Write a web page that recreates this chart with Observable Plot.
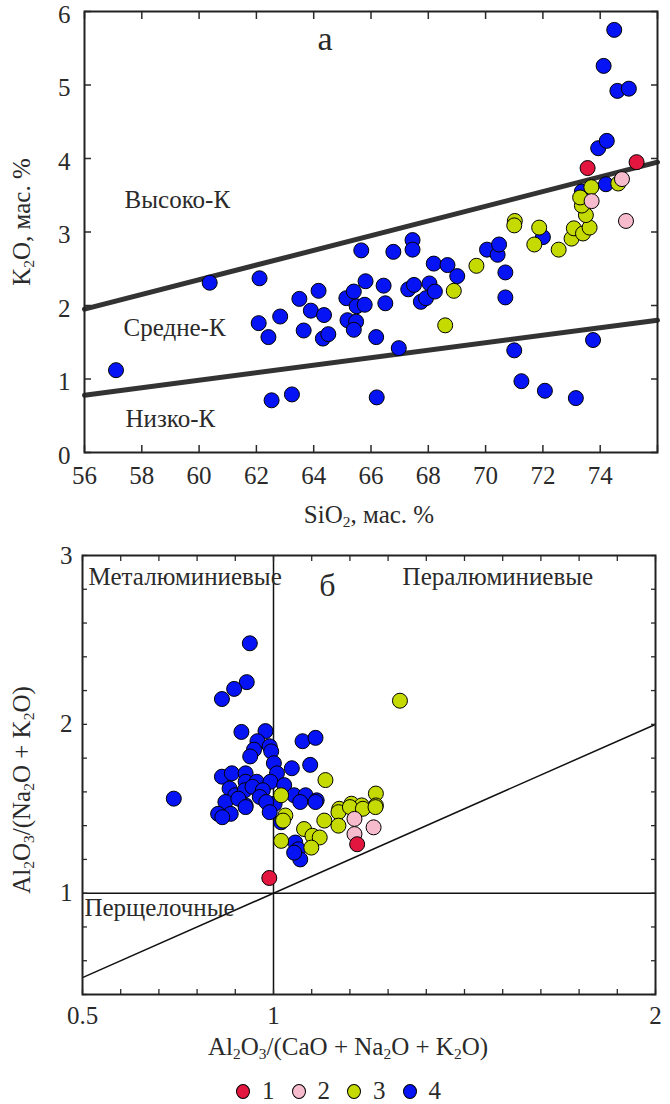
<!DOCTYPE html>
<html><head><meta charset="utf-8">
<script src="https://cdn.jsdelivr.net/npm/d3@7"></script>
<script src="https://cdn.jsdelivr.net/npm/@observablehq/plot@0.6"></script>
<style>
body{margin:0;background:#fff;}
#wrap{position:relative;width:670px;height:1104px;background:#fff;font-family:"Liberation Serif","Times New Roman",serif;color:#2a2a2a}
#wrap > div.p{position:absolute;left:0}
.t{position:absolute;font-size:25px;white-space:nowrap;line-height:1.2;transform:translate(-50%,-50%)}
.t.rot{transform:translate(-50%,-50%) rotate(-90deg)}
.t sub{font-size:0.62em;vertical-align:-0.28em;line-height:0}
#legend{position:absolute;left:236px;top:1080px;height:22px;display:flex;align-items:center;font-size:25px;line-height:22px}
#legend .sw{width:14px;height:15px;border-radius:50%;border:1px solid #000;box-sizing:border-box;margin-right:12px}
#legend .lb{margin-right:17px;line-height:22px}
</style>
</head><body>
<div id="wrap">
  <div class="p" id="pa" style="top:0"></div>
  <div class="p" id="pb" style="top:530px"></div>
  <div class="t" style="left:369px;top:515px">SiO<sub>2</sub>, мас. %</div>
  <div class="t rot" style="left:22px;top:222px">K<sub>2</sub>O, мас. %</div>
  <div class="t" style="left:348px;top:1047px">Al<sub>2</sub>O<sub>3</sub>/(CaO + Na<sub>2</sub>O + K<sub>2</sub>O)</div>
  <div class="t rot" style="left:22px;top:790px">Al<sub>2</sub>O<sub>3</sub>/(Na<sub>2</sub>O + K<sub>2</sub>O)</div>
  <div id="legend"></div>
</div>
<script>
// ---------- data ----------
const groupNames = ["1", "2", "3", "4"];
const groupColors = ["#e3163f", "#f6bccd", "#c5da00", "#0614f5"];

// Panel а: [SiO2, K2O]
const si_k_1 = [[73.56,3.87],[75.27,3.95]];
const si_k_2 = [[74.76,3.72],[73.7,3.42],[74.9,3.15]];
const si_k_3 = [[68.59,1.73],[68.89,2.2],[69.68,2.54],[71.7,2.83],[72.55,2.76],[71.02,3.15],[71.0,3.09],[71.87,3.06],[73.0,2.91],[73.08,3.05],[73.4,2.98],[73.63,3.06],[73.5,3.23],[73.36,3.36],[73.3,3.47],[73.69,3.61],[74.63,3.66]];
const si_k_4 = [[57.1,1.12],[60.37,2.31],[62.11,2.37],[62.08,1.76],[62.42,1.57],[62.83,1.85],[63.5,2.09],[63.65,1.66],[63.9,1.93],[64.17,2.2],[64.36,1.87],[64.32,1.55],[64.51,1.61],[65.14,2.1],[65.4,2.19],[65.5,1.99],[65.78,2.01],[65.18,1.8],[65.48,1.78],[65.4,1.67],[65.81,2.33],[66.44,2.27],[66.5,2.03],[66.18,1.57],[66.97,1.42],[65.66,2.75],[66.78,2.73],[67.45,2.89],[67.45,2.76],[67.3,2.22],[67.5,2.28],[67.74,2.05],[67.92,2.1],[68.04,2.3],[68.23,2.19],[68.19,2.57],[68.67,2.55],[69.01,2.4],[70.05,2.76],[70.42,2.69],[70.47,2.83],[70.69,2.45],[70.69,2.11],[71.0,1.39],[71.25,0.97],[72.07,0.84],[73.15,0.74],[73.75,1.53],[62.53,0.71],[63.24,0.79],[66.2,0.75],[72.0,2.93],[73.36,3.55],[74.2,3.65],[73.93,4.14],[74.23,4.24],[74.12,5.26],[74.49,5.75],[74.6,4.92],[75.0,4.95]];
const highKBoundary = [[56,1.95],[76,3.95]];
const lowKBoundary = [[56,0.78],[76,1.8]];
const siTicks = [56,58,60,62,64,66,68,70,72,74,76];
const siLabels = [56,58,60,62,64,66,68,70,72,74];
const kTicks = [0,1,2,3,4,5,6];

// Panel б: [A/CNK, A/NK]
const acnk_ank_1 = [[1.219,1.29],[0.989,1.09]];
const acnk_ank_2 = [[1.212,1.44],[1.262,1.39],[1.212,1.35]];
const acnk_ank_3 = [[1.331,2.14],[1.136,1.67],[1.02,1.58],[1.268,1.59],[1.204,1.53],[1.231,1.52],[1.268,1.52],[1.172,1.5],[1.031,1.46],[1.025,1.43],[1.02,1.31],[1.08,1.38],[1.102,1.34],[1.121,1.33],[1.099,1.27],[1.133,1.43],[1.17,1.48],[1.17,1.4],[1.2,1.51],[1.234,1.5],[1.267,1.51]];
const acnk_ank_4 = [[0.938,2.48],[0.93,2.25],[0.897,2.21],[0.865,2.15],[0.916,1.955],[0.979,1.96],[1.076,1.9],[1.11,1.92],[0.958,1.9],[0.949,1.85],[0.939,1.81],[0.99,1.87],[0.994,1.84],[1.001,1.77],[1.009,1.71],[1.048,1.74],[1.096,1.76],[0.865,1.69],[0.891,1.71],[0.927,1.71],[0.927,1.66],[0.956,1.66],[0.992,1.66],[1.028,1.64],[0.885,1.62],[0.9,1.58],[0.925,1.61],[0.945,1.63],[0.972,1.61],[0.739,1.56],[1.054,1.58],[1.084,1.58],[1.113,1.55],[0.874,1.54],[0.964,1.57],[1.003,1.53],[0.927,1.52],[0.981,1.54],[0.908,1.56],[0.855,1.47],[0.888,1.47],[0.866,1.45],[0.927,1.51],[0.99,1.48],[1.02,1.42],[1.07,1.54],[1.11,1.54],[1.057,1.3],[1.065,1.26],[1.07,1.2],[1.054,1.24]];
const alkBoundary = [[0.5,0.5],[2,2]];
const acnkTicks = d3.range(5, 21).map(d => d / 10);
const acnkLabels = [0.5, 1, 2];
const ankTicks = d3.range(2, 16).map(d => d / 5);
const ankLabels = [1, 2, 3];

// ---------- drawing ----------
const X = d => d[0], Y = d => d[1];
// draw group 4 first, then 3, 2, 1 on top
const dots = (sets) => [3, 2, 1, 0].map(i => Plot.dot(sets[i], {x: X, y: Y, r: 7.5, fill: groupColors[i], stroke: "#000", strokeWidth: 1}));
const baseStyle = {fontFamily: "'Liberation Serif', serif", fontSize: "25px", color: "#2a2a2a", background: "transparent", overflow: "visible"};
const INK = "#2a2a2a";

const plotA = Plot.plot({
  width: 670, height: 530,
  marginLeft: 84, marginRight: 13, marginTop: 11, marginBottom: 78,
  style: baseStyle,
  x: {domain: [56, 76]},
  y: {domain: [0, 6]},
  marks: [
    Plot.line(highKBoundary, {x: X, y: Y, stroke: "#333", strokeWidth: 5}),
    Plot.line(lowKBoundary, {x: X, y: Y, stroke: "#333", strokeWidth: 5}),
    ...dots([si_k_1, si_k_2, si_k_3, si_k_4]),
    Plot.axisX({ticks: siTicks, anchor: "bottom", tickSize: -7, tickFormat: () => "", label: null, strokeWidth: 1.5}),
    Plot.axisX({ticks: siTicks, anchor: "top", tickSize: -7, tickFormat: () => "", label: null, strokeWidth: 1.5}),
    Plot.axisX({ticks: siLabels, anchor: "bottom", tickSize: 0, tickPadding: 14, label: null, tickFormat: d => String(d), fontSize: 25, fill: INK}),
    Plot.axisY({ticks: kTicks, anchor: "left", tickSize: -7, tickFormat: () => "", label: null, strokeWidth: 1.5}),
    Plot.axisY({ticks: kTicks, anchor: "right", tickSize: -7, tickFormat: () => "", label: null, strokeWidth: 1.5}),
    Plot.axisY({ticks: kTicks, anchor: "left", tickSize: 0, tickPadding: 14, label: null, tickFormat: d => String(d), fontSize: 25, fill: INK, dy: 3}),
    Plot.frame({stroke: "#222", strokeWidth: 2}),
    Plot.text(["Высоко-К"], {x: 57.4, y: 3.43, text: d => d, textAnchor: "start", fontSize: 25, fill: INK}),
    Plot.text(["Средне-К"], {x: 57.36, y: 1.69, text: d => d, textAnchor: "start", fontSize: 25, fill: INK}),
    Plot.text(["Низко-К"], {x: 57.43, y: 0.46, text: d => d, textAnchor: "start", fontSize: 25, fill: INK}),
    Plot.text(["а"], {x: 64.4, y: 5.63, text: d => d, fontSize: 34, fill: INK})
  ]
});

const plotB = Plot.plot({
  width: 670, height: 550,
  marginLeft: 82, marginRight: 15, marginTop: 25, marginBottom: 86,
  style: baseStyle,
  x: {domain: [0.5, 2]},
  y: {domain: [0.4, 3]},
  marks: [
    Plot.ruleX([1], {stroke: "#111", strokeWidth: 1.5}),
    Plot.ruleY([1], {stroke: "#111", strokeWidth: 1.5}),
    Plot.line(alkBoundary, {x: X, y: Y, stroke: "#111", strokeWidth: 1.5, clip: true}),
    ...dots([acnk_ank_1, acnk_ank_2, acnk_ank_3, acnk_ank_4]),
    Plot.axisX({ticks: acnkTicks, anchor: "bottom", tickSize: -5, tickFormat: () => "", label: null, strokeWidth: 1.3}),
    Plot.axisX({ticks: acnkTicks, anchor: "top", tickSize: -5, tickFormat: () => "", label: null, strokeWidth: 1.3}),
    Plot.axisX({ticks: acnkLabels, anchor: "bottom", tickSize: 0, tickPadding: 12, label: null, tickFormat: d => String(d), fontSize: 25, fill: INK}),
    Plot.axisY({ticks: ankTicks, anchor: "left", tickSize: -5, tickFormat: () => "", label: null, strokeWidth: 1.3}),
    Plot.axisY({ticks: ankTicks, anchor: "right", tickSize: -5, tickFormat: () => "", label: null, strokeWidth: 1.3}),
    Plot.axisY({ticks: ankLabels, anchor: "left", tickSize: 0, tickPadding: 10, label: null, tickFormat: d => String(d), fontSize: 25, fill: INK}),
    Plot.frame({stroke: "#222", strokeWidth: 2}),
    Plot.text(["Металюминиевые"], {x: 0.516, y: 2.87, text: d => d, textAnchor: "start", fontSize: 25, fill: INK}),
    Plot.text(["Пералюминиевые"], {x: 1.338, y: 2.87, text: d => d, textAnchor: "start", fontSize: 25, fill: INK}),
    Plot.text(["Перщелочные"], {x: 0.505, y: 0.91, text: d => d, textAnchor: "start", fontSize: 25, fill: INK}),
    Plot.text(["б"], {x: 1.141, y: 2.82, text: d => d, fontSize: 32, fill: INK})
  ]
});

document.getElementById("pa").appendChild(plotA);
document.getElementById("pb").appendChild(plotB);

// legend
const legend = document.getElementById("legend");
groupNames.forEach((g, i) => {
  const s = document.createElement("span");
  s.className = "sw"; s.style.background = groupColors[i];
  legend.appendChild(s);
  const t = document.createElement("span");
  t.className = "lb"; t.textContent = g;
  legend.appendChild(t);
});
</script>
</body></html>
